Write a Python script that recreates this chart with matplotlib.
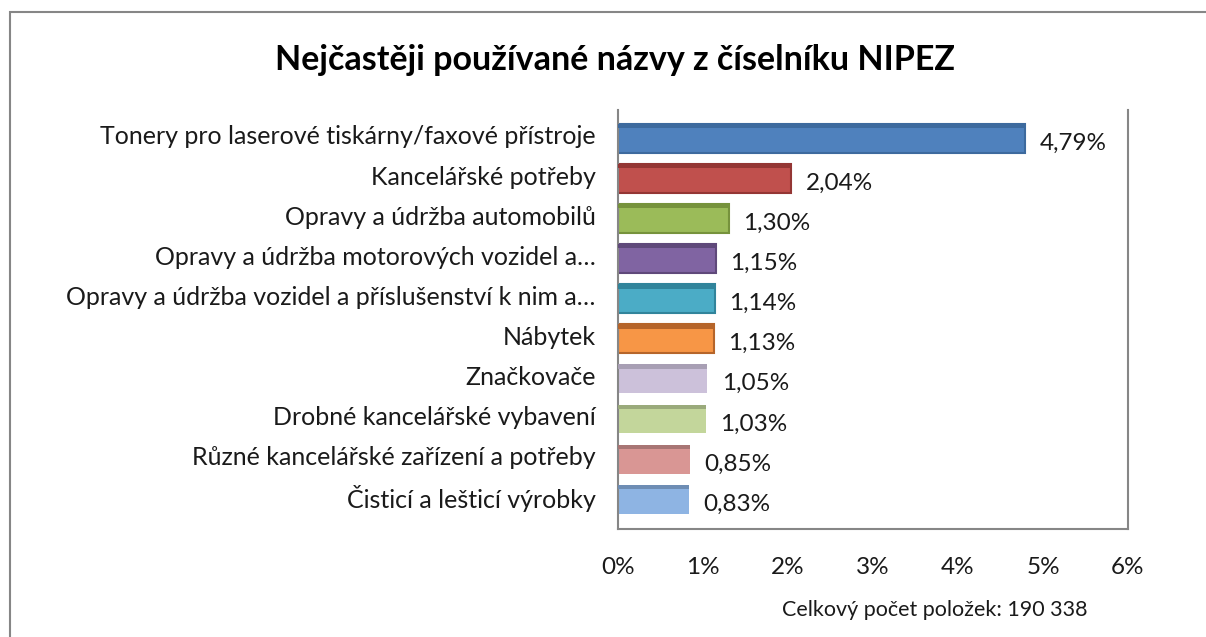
import matplotlib
matplotlib.use("Agg")
from matplotlib import pyplot as plt
from matplotlib.patches import Rectangle

# Data
categories = [
    "Tonery pro laserové tiskárny/faxové přístroje",
    "Kancelářské potřeby",
    "Opravy a údržba automobilů",
    "Opravy a údržba motorových vozidel a…",
    "Opravy a údržba vozidel a příslušenství k nim a…",
    "Nábytek",
    "Značkovače",
    "Drobné kancelářské vybavení",
    "Různé kancelářské zařízení a potřeby",
    "Čisticí a lešticí výrobky",
]
shares = [4.79, 2.04, 1.30, 1.15, 1.14, 1.13, 1.05, 1.03, 0.85, 0.83]
face_colors = ["#4F81BD", "#C0504D", "#9BBB59", "#8064A2", "#4BACC6",
               "#F79646", "#CCC1DA", "#C3D69B", "#D99694", "#8EB4E3"]
edge_colors = ["#3D6A9E", "#943634", "#76923C", "#5F497A", "#31849B",
               "#B6652A", "#A89FB4", "#9AAA7B", "#A87574", "#6E8DB4"]
x_ticks = [0, 1, 2, 3, 4, 5, 6]
title = "Nejčastěji používané názvy z číselníku NIPEZ"
note = "Celkový počet položek: 190 338"

FONT = "Lato"
GRAY = "#868686"
TXT = "#1a1a1a"

fig = plt.figure(figsize=(12.06, 6.37), dpi=100)

# outer chart border
fig.patches.append(Rectangle((10 / 1206, -0.01), 1.02, 1 - 12 / 637 + 0.01,
                             transform=fig.transFigure, fill=False,
                             edgecolor=GRAY, linewidth=1.5))

ax = fig.add_axes([618 / 1206, 1 - 529 / 637, 510 / 1206, 419 / 637])

pos = list(range(len(categories)))
bar_h = 0.72
shift = 0.08  # bars sit a bit low like the Excel 3D look
strip = 0.11

for i, v in enumerate(shares):
    y = pos[i] + shift
    # front face
    ax.barh(y, v, height=bar_h, color=face_colors[i], edgecolor=edge_colors[i],
            linewidth=1.5 if i < 6 else 0, zorder=2)
    # darker top strip
    ax.barh(y - bar_h / 2 + strip / 2, v, height=strip, color=edge_colors[i],
            linewidth=0, zorder=3)
    ax.text(v + 0.17, pos[i] + 0.2, f"{v:.2f}".replace(".", ",") + "%",
            va="center", ha="left", fontsize=17.5, family=FONT, color=TXT)

ax.set_xlim(0, 6)
ax.set_ylim(9.82, -0.62)
ax.set_yticks(pos)
ax.set_yticklabels(categories, fontsize=18, family=FONT, color=TXT)
ax.set_xticks(x_ticks)
ax.set_xticklabels([f"{t}%" for t in x_ticks], fontsize=17.5, family=FONT, color=TXT)
ax.tick_params(axis="y", length=0, pad=16)
ax.tick_params(axis="x", length=0, pad=20)
for s in ax.spines.values():
    s.set_color(GRAY)
    s.set_linewidth(1.5)
ax.spines["top"].set_visible(False)

fig.text(615 / 1206, 1 - 60 / 637, title, ha="center", va="center",
         fontsize=24.5, fontweight="bold", family=FONT)
fig.text(935 / 1206, 1 - 610 / 637, note, ha="center", va="center",
         fontsize=15.5, family=FONT, color=TXT)

fig.savefig("out.png", dpi=100)
